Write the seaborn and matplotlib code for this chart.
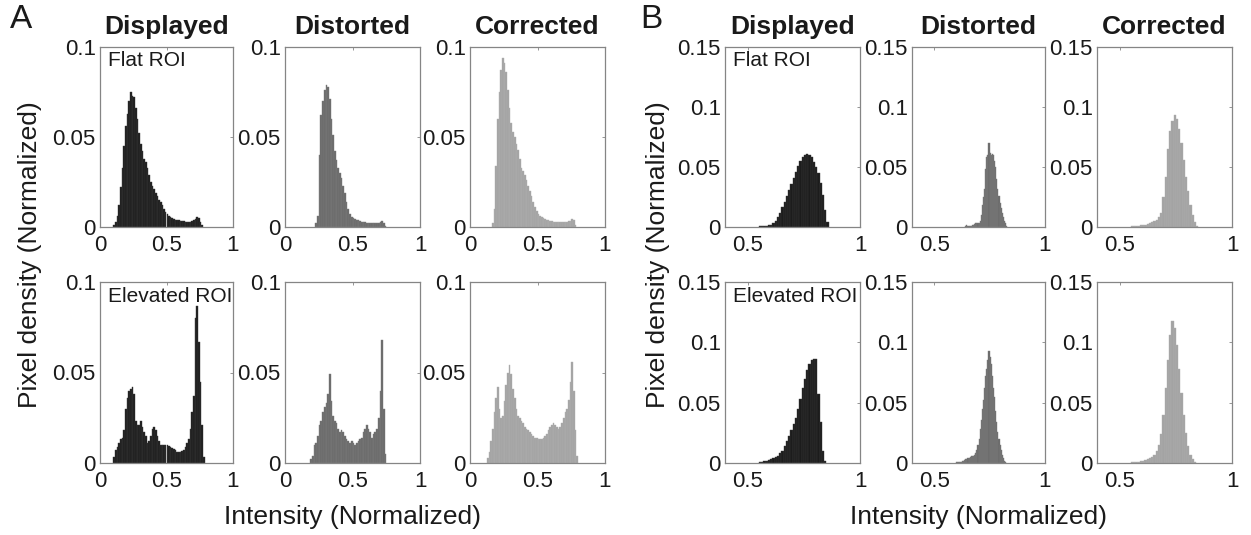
import numpy as np
import pandas as pd
import matplotlib
matplotlib.use("Agg")
import matplotlib.pyplot as plt
import seaborn as sns

sns.set_theme(style="white")
plt.rcParams['font.family'] = ['Liberation Sans', 'DejaVu Sans']

# ---------------- data (bin start, bin width, bar heights) ----------------
columns = ["Displayed", "Distorted", "Corrected"]
rows = ["Flat ROI", "Elevated ROI"]

# Panel A
a_flat_disp_start, a_flat_disp_w = 0.10, 0.0125
a_flat_disp = [0.001, 0.003, 0.006, 0.012, 0.022, 0.033, 0.045, 0.056, 0.063, 0.070,
               0.075, 0.073, 0.072, 0.066, 0.060, 0.052, 0.046, 0.042, 0.038, 0.036,
               0.033, 0.029, 0.025, 0.023, 0.021, 0.019, 0.017, 0.015, 0.014, 0.012,
               0.010, 0.0085, 0.007, 0.006, 0.0055, 0.005, 0.0045, 0.004, 0.004, 0.0037,
               0.0035, 0.0035, 0.0033, 0.003, 0.003, 0.003, 0.003, 0.0032, 0.0038, 0.0045,
               0.0057, 0.005, 0.003, 0.001]

a_flat_dist_start, a_flat_dist_w = 0.225, 0.0125
a_flat_dist = [0.002, 0.006, 0.040, 0.062, 0.070, 0.076, 0.079, 0.078, 0.071, 0.060,
               0.051, 0.042, 0.037, 0.033, 0.030, 0.027, 0.023, 0.019, 0.014, 0.010,
               0.007, 0.0056, 0.005, 0.0045, 0.004, 0.0037, 0.0033, 0.003, 0.0028, 0.0027,
               0.0025, 0.0023, 0.0022, 0.002, 0.002, 0.002, 0.0022, 0.0025, 0.003, 0.0035,
               0.002, 0.0008]

a_flat_corr_start, a_flat_corr_w = 0.1625, 0.0125
a_flat_corr = [0.002, 0.010, 0.034, 0.060, 0.075, 0.087, 0.094, 0.091, 0.086, 0.076,
               0.066, 0.058, 0.053, 0.050, 0.046, 0.043, 0.038, 0.033, 0.031, 0.029,
               0.026, 0.023, 0.020, 0.017, 0.014, 0.011, 0.009, 0.007, 0.006, 0.0055,
               0.005, 0.0045, 0.004, 0.0037, 0.0035, 0.0033, 0.003, 0.003, 0.003, 0.0028,
               0.0028, 0.0028, 0.003, 0.003, 0.003, 0.0032, 0.0035, 0.0045, 0.004, 0.001]

a_elev_disp_start, a_elev_disp_w = 0.10, 0.0125
a_elev_disp = [0.0035, 0.007, 0.009, 0.011, 0.013, 0.014, 0.018, 0.030, 0.036, 0.040,
               0.041, 0.042, 0.038, 0.023, 0.021, 0.021, 0.023, 0.020, 0.017, 0.015,
               0.011, 0.012, 0.015, 0.019, 0.020, 0.018, 0.015, 0.012, 0.010, 0.010,
               0.010, 0.010, 0.010, 0.0095, 0.009, 0.0085, 0.008, 0.007, 0.006, 0.006,
               0.006, 0.0065, 0.007, 0.009, 0.011, 0.013, 0.019, 0.028, 0.037, 0.080,
               0.087, 0.067, 0.045, 0.021, 0.0035]

a_elev_dist_start, a_elev_dist_w = 0.1875, 0.0125
a_elev_dist = [0.002, 0.004, 0.010, 0.011, 0.015, 0.021, 0.023, 0.028, 0.031, 0.033,
               0.038, 0.049, 0.034, 0.026, 0.023, 0.022, 0.019, 0.017, 0.018, 0.017,
               0.015, 0.013, 0.012, 0.011, 0.012, 0.011, 0.010, 0.011, 0.012, 0.013,
               0.014, 0.017, 0.019, 0.021, 0.019, 0.017, 0.014, 0.016, 0.017, 0.019,
               0.025, 0.040, 0.068, 0.030, 0.005]

a_elev_corr_start, a_elev_corr_w = 0.125, 0.0125
a_elev_corr = [0.003, 0.006, 0.012, 0.019, 0.028, 0.036, 0.042, 0.030, 0.025, 0.026,
               0.034, 0.043, 0.050, 0.054, 0.049, 0.041, 0.036, 0.030, 0.026, 0.025,
               0.023, 0.022, 0.020, 0.019, 0.018, 0.017, 0.016, 0.015, 0.014, 0.014,
               0.013, 0.013, 0.013, 0.014, 0.015, 0.016, 0.018, 0.020, 0.021, 0.022,
               0.021, 0.020, 0.019, 0.020, 0.022, 0.025, 0.028, 0.030, 0.035, 0.045,
               0.056, 0.040, 0.018, 0.004]

# Panel B
b_flat_disp_start, b_flat_disp_w = 0.55, 0.01
b_flat_disp = [0.0005, 0.001, 0.001, 0.0012, 0.0015, 0.002, 0.003, 0.005, 0.008, 0.012,
               0.017, 0.021, 0.026, 0.031, 0.036, 0.041, 0.046, 0.051, 0.055, 0.058,
               0.060, 0.061, 0.060, 0.058, 0.054, 0.050, 0.045, 0.037, 0.027, 0.014,
               0.004]

b_flat_dist_start, b_flat_dist_w = 0.64, 0.005
b_flat_dist = [0.0008, 0.0015, 0.001, 0.0008, 0.001, 0.0012, 0.0015, 0.002, 0.0025, 0.003,
               0.003, 0.003, 0.003, 0.005, 0.010, 0.018, 0.025, 0.032, 0.048, 0.058,
               0.060, 0.070, 0.062, 0.060, 0.061, 0.060, 0.055, 0.050, 0.040, 0.032,
               0.026, 0.020, 0.016, 0.012, 0.008, 0.005, 0.003, 0.001]

b_flat_corr_start, b_flat_corr_w = 0.55, 0.01
b_flat_corr = [0.0005, 0.0008, 0.001, 0.001, 0.0015, 0.002, 0.002, 0.0025, 0.003, 0.004,
               0.005, 0.006, 0.008, 0.012, 0.025, 0.042, 0.065, 0.080, 0.088, 0.093,
               0.090, 0.082, 0.070, 0.056, 0.042, 0.030, 0.018, 0.010, 0.004, 0.001]

b_elev_disp_start, b_elev_disp_w = 0.55, 0.01
b_elev_disp = [0.0005, 0.001, 0.0015, 0.002, 0.0025, 0.003, 0.004, 0.005, 0.006, 0.008,
               0.010, 0.014, 0.018, 0.022, 0.027, 0.032, 0.037, 0.045, 0.053, 0.062,
               0.070, 0.077, 0.082, 0.085, 0.086, 0.086, 0.057, 0.034, 0.010, 0.002]

b_elev_dist_start, b_elev_dist_w = 0.60, 0.005
b_elev_dist = [0.0005, 0.0008, 0.001, 0.001, 0.0012, 0.0015, 0.002, 0.0025, 0.003, 0.0035,
               0.004, 0.0045, 0.005, 0.0055, 0.006, 0.006, 0.0065, 0.008, 0.011, 0.015,
               0.020, 0.028, 0.036, 0.045, 0.052, 0.062, 0.072, 0.078, 0.085, 0.093,
               0.088, 0.082, 0.072, 0.062, 0.055, 0.043, 0.034, 0.026, 0.020, 0.015,
               0.011, 0.007, 0.004, 0.002, 0.001]

b_elev_corr_start, b_elev_corr_w = 0.55, 0.01
b_elev_corr = [0.0005, 0.0008, 0.001, 0.0012, 0.0015, 0.002, 0.0025, 0.003, 0.004, 0.005,
               0.007, 0.010, 0.015, 0.024, 0.040, 0.062, 0.085, 0.106, 0.118, 0.112,
               0.098, 0.078, 0.058, 0.040, 0.025, 0.014, 0.007, 0.003, 0.001]

a_xticks = [0, 0.5, 1]
a_xticklabels = ["0", "0.5", "1"]
a_yticks = [0, 0.05, 0.1]
a_yticklabels = ["0", "0.05", "0.1"]
b_xticks = [0.5, 1]
b_xticklabels = ["0.5", "1"]
b_yticks = [0, 0.05, 0.1, 0.15]
b_yticklabels = ["0", "0.05", "0.1", "0.15"]

# ---------------- styling ----------------
fills = ["#1c1c1c", "#6a6a6a", "#a3a3a3"]
edges = ["#3a3a3a", "#7c7c7c", "#b0b0b0"]
spine_col = "#858585"
txt_col = "#1a1a1a"

W, H = 1251, 535
fig = plt.figure(figsize=(W / 100, H / 100), dpi=100)


def add_ax(x0, y0, x1, y1):
    return fig.add_axes([x0 / W, 1 - y1 / H, (x1 - x0) / W, (y1 - y0) / H])


a_cols = [(100, 233), (285, 420), (470, 605)]
b_cols = [(725, 860), (912, 1045), (1097, 1232)]
row_y = [(47, 227), (282, 463)]

panels_a = [
    [(a_flat_disp_start, a_flat_disp_w, a_flat_disp),
     (a_flat_dist_start, a_flat_dist_w, a_flat_dist),
     (a_flat_corr_start, a_flat_corr_w, a_flat_corr)],
    [(a_elev_disp_start, a_elev_disp_w, a_elev_disp),
     (a_elev_dist_start, a_elev_dist_w, a_elev_dist),
     (a_elev_corr_start, a_elev_corr_w, a_elev_corr)],
]
panels_b = [
    [(b_flat_disp_start, b_flat_disp_w, b_flat_disp),
     (b_flat_dist_start, b_flat_dist_w, b_flat_dist),
     (b_flat_corr_start, b_flat_corr_w, b_flat_corr)],
    [(b_elev_disp_start, b_elev_disp_w, b_elev_disp),
     (b_elev_dist_start, b_elev_dist_w, b_elev_dist),
     (b_elev_corr_start, b_elev_corr_w, b_elev_corr)],
]


def draw(ax, spec, ci, xlim, ylim, xt, xtl, yt, ytl):
    start, w, h = spec
    n = len(h)
    centers = [start + w * (i + 0.5) for i in range(n)]
    df = pd.DataFrame({"intensity": centers, "density": list(h)})
    sns.histplot(data=df, x="intensity", weights="density", binwidth=w,
                 binrange=(start, start + w * n), stat="count", ax=ax,
                 color=fills[ci], edgecolor=edges[ci], linewidth=0.3, alpha=1.0)
    ax.set_xlim(*xlim)
    ax.set_ylim(*ylim)
    ax.set_xticks(xt)
    ax.set_xticklabels(xtl)
    ax.set_yticks(yt)
    ax.set_yticklabels(ytl)
    ax.set_xlabel("")
    ax.set_ylabel("")
    ax.tick_params(direction="in", length=2.5, width=0.6, color=spine_col,
                   top=True, right=True, labelsize=16, labelcolor=txt_col)
    ax.tick_params(axis="x", pad=6)
    ax.tick_params(axis="y", pad=3)
    for s in ax.spines.values():
        s.set_color(spine_col)
        s.set_linewidth(0.9)
        s.set_visible(True)
    ax.set_facecolor("white")


for panels, cols, xlim, xt, xtl, ylim, yt, ytl in [
        (panels_a, a_cols, (0, 1), a_xticks, a_xticklabels, (0, 0.1), a_yticks, a_yticklabels),
        (panels_b, b_cols, (0.4, 1), b_xticks, b_xticklabels, (0, 0.15), b_yticks, b_yticklabels)]:
    for ri, (y0, y1) in enumerate(row_y):
        for ci, (x0, x1) in enumerate(cols):
            ax = add_ax(x0, y0, x1, y1)
            draw(ax, panels[ri][ci], ci, xlim, ylim, xt, xtl, yt, ytl)
            if ri == 0:
                ax.set_title(columns[ci], fontsize=19, fontweight="bold",
                             color=txt_col, pad=9)
            if ci == 0:
                ax.text(0.06, 0.975, rows[ri], transform=ax.transAxes,
                        ha="left", va="top", fontsize=15, color=txt_col)

# panel letters, axis labels
fig.text(10 / W, 1 - 20 / H, "A", fontsize=24, color=txt_col, va="center", ha="left")
fig.text(640 / W, 1 - 20 / H, "B", fontsize=24, color=txt_col, va="center", ha="left")
for xl, cx in [(30, 352), (658, 978)]:
    fig.text(xl / W, 1 - 255 / H, "Pixel density (Normalized)", rotation=90,
             fontsize=19, color=txt_col, ha="center", va="center")
    fig.text(cx / W, 1 - 517 / H, "Intensity (Normalized)", fontsize=19,
             color=txt_col, ha="center", va="center")

fig.savefig("out.png", dpi=100, facecolor="white")
